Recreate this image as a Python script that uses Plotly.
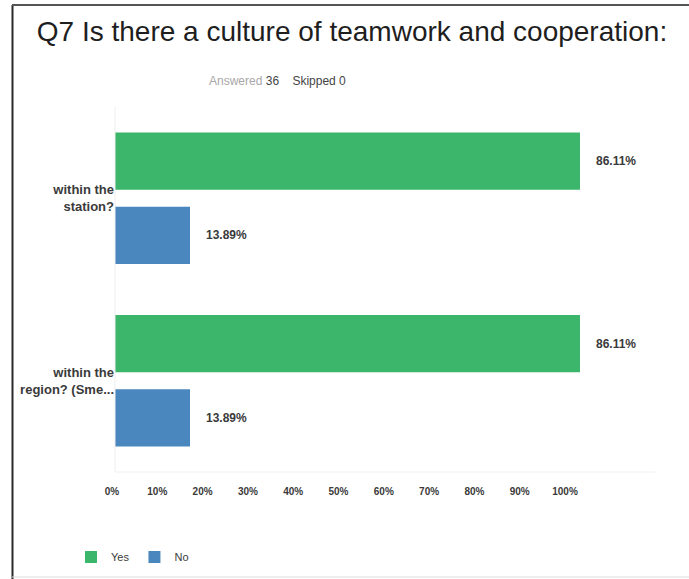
import plotly.graph_objects as go

# Survey question Q7: share of answers per sub-question
categories = ["within the<br>station?", "within the<br>region? (Sme..."]
yes_pct = [86.11, 86.11]
no_pct = [13.89, 13.89]
tick_vals = [0, 10, 20, 30, 40, 50, 60, 70, 80, 90, 100]
tick_text = ["0%", "10%", "20%", "30%", "40%", "50%", "60%", "70%", "80%", "90%", "100%"]
answered = 36
skipped = 0

GREEN = "#3cb66b"
BLUE = "#4a87bf"
TEXT = "#3a3a3a"
W, H = 689, 579

def px_x(p):
    return p / W

def px_y(p):
    return 1 - p / H

fig = go.Figure()
fig.add_trace(go.Bar(name="Yes", y=categories, x=yes_pct, orientation="h",
                     marker=dict(color=GREEN, line=dict(width=0)), hoverinfo="skip"))
fig.add_trace(go.Bar(name="No", y=categories, x=no_pct, orientation="h",
                     marker=dict(color=BLUE, line=dict(width=0)), hoverinfo="skip"))

# percentage scale shown beneath the bars (own axis pair, nothing visible drawn)
fig.add_trace(go.Scatter(x=[tick_vals[0], tick_vals[-1]], y=[0, 0],
                         xaxis="x2", yaxis="y2", mode="markers",
                         marker=dict(opacity=0), showlegend=False, hoverinfo="skip"))

annotations = []
for i, (yv, nv) in enumerate(zip(yes_pct, no_pct)):
    for val, shift in ((yv, -0.203), (nv, 0.203)):
        annotations.append(dict(x=val, y=i + shift, xref="x", yref="y",
                                text=f"{val:.2f}%", showarrow=False, xanchor="left",
                                xshift=14, font=dict(family="Liberation Sans", size=12,
                                                     color=TEXT, weight="bold")))

annotations.append(dict(
    x=px_x(277), y=px_y(72), xref="paper", yref="paper", showarrow=False,
    text=(f"<span style='color:#a8a8a8'>Answered</span> {answered}"
          f"&nbsp;&nbsp;&nbsp;&nbsp;Skipped {skipped}"),
    font=dict(family="Liberation Sans", size=12, color="#444444")))

fig.update_layout(
    width=W, height=H,
    margin=dict(l=0, r=0, t=0, b=0, autoexpand=False),
    paper_bgcolor="white", plot_bgcolor="rgba(0,0,0,0)",
    barmode="group", bargap=0.187, bargroupgap=0.23,
    title=dict(text="Q7 Is there a culture of teamwork and cooperation:",
               x=px_x(352), xanchor="center", y=px_y(31), yanchor="middle",
               font=dict(family="Liberation Sans", size=28, color="#1e1e1e")),
    xaxis=dict(domain=[px_x(115), px_x(655)], range=[0, 100], showticklabels=False,
               showgrid=False, zeroline=False, showline=False, fixedrange=True,
               automargin=False),
    yaxis=dict(domain=[px_y(472), px_y(107)], autorange="reversed", type="category",
               showgrid=False, zeroline=False, showline=False, ticks="", automargin=False,
               tickfont=dict(family="Liberation Sans", size=13, color=TEXT, weight="bold")),
    xaxis2=dict(domain=[px_x(112), px_x(565)], range=[0, 100], anchor="y2",
                tickvals=tick_vals, ticktext=tick_text, ticks="", automargin=False,
                showgrid=False, zeroline=False, showline=False, fixedrange=True,
                tickfont=dict(family="Liberation Sans", size=10, color=TEXT, weight="bold")),
    yaxis2=dict(domain=[px_y(484), px_y(482)], range=[-1, 1], visible=False,
                anchor="x2", fixedrange=True, automargin=False),
    legend=dict(orientation="h", x=px_x(71), y=px_y(557), xanchor="left", yanchor="middle",
                font=dict(family="Liberation Sans", size=11, color=TEXT),
                traceorder="normal"),
    annotations=annotations,
    shapes=[
        # faint plot-area edges
        dict(type="line", xref="paper", yref="paper", x0=px_x(115), x1=px_x(115),
             y0=px_y(472), y1=px_y(107), line=dict(color="#eeeeee", width=1)),
        dict(type="line", xref="paper", yref="paper", x0=px_x(115), x1=px_x(655),
             y0=px_y(472), y1=px_y(472), line=dict(color="#f0f0f0", width=1)),
        # page frame
        dict(type="line", xref="paper", yref="paper", x0=px_x(12.5), x1=px_x(12.5),
             y0=0, y1=px_y(5), line=dict(color="#2a2a2a", width=2)),
        dict(type="line", xref="paper", yref="paper", x0=px_x(12), x1=1,
             y0=px_y(5), y1=px_y(5), line=dict(color="#555555", width=2)),
        dict(type="line", xref="paper", yref="paper", x0=px_x(12), x1=1,
             y0=px_y(577), y1=px_y(577), line=dict(color="#dddddd", width=1)),
    ],
)

fig.write_html("out.html")
